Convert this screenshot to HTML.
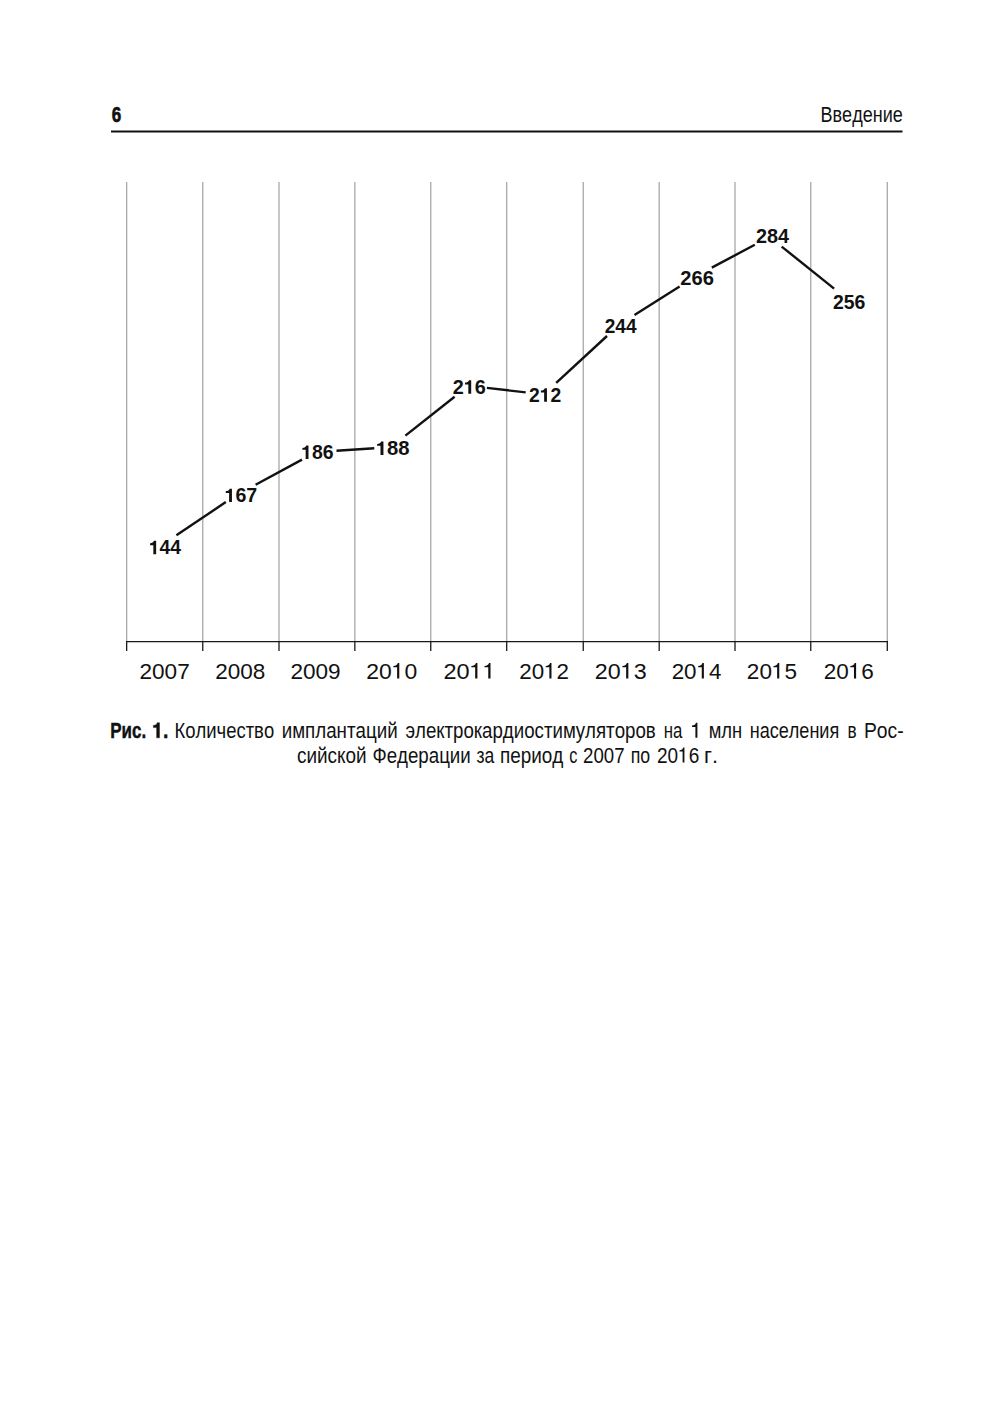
<!DOCTYPE html>
<html><head><meta charset="utf-8">
<style>
html,body{margin:0;padding:0;background:#fff;}
body{width:1000px;height:1420px;position:relative;overflow:hidden;}
svg{position:absolute;left:0;top:0;}
text{font-family:"Liberation Sans",sans-serif;fill:#111;font-kerning:none;}
path{fill:#111;}
</style></head><body>
<svg width="1000" height="1420" viewBox="0 0 1000 1420">
<rect x="111" y="130.5" width="791.5" height="2" fill="#111"/>
<text x="111.76" y="122.0" font-size="22.3" font-weight="bold" textLength="9.45" lengthAdjust="spacingAndGlyphs" stroke="#111" stroke-width="0.7">6</text>
<text x="820.51" y="122" font-size="22.7" textLength="82.28" lengthAdjust="spacingAndGlyphs" >Введение</text>
<text x="110.25" y="737.8" font-size="21.8" font-weight="bold" textLength="35.90" lengthAdjust="spacingAndGlyphs" stroke="#111" stroke-width="0.45">Рис.</text>
<text x="152.18" y="737.8" font-size="21.8" font-weight="bold" textLength="16.16" lengthAdjust="spacingAndGlyphs" stroke="#111" stroke-width="0.45"> .</text>
<path transform="translate(152.18 737.8) scale(19.373 -21.800)" d="M0.376 0L0.376 0.69L0.262 0.69C0.240 0.600 0.170 0.572 0.063 0.570L0.063 0.468L0.231 0.468L0.231 0Z" vector-effect="non-scaling-stroke" stroke="#111" stroke-width="0.45"/>
<text x="174.48" y="737.8" font-size="21.8" textLength="99.68" lengthAdjust="spacingAndGlyphs" >Количество</text>
<text x="281.69" y="737.8" font-size="21.8" textLength="116.00" lengthAdjust="spacingAndGlyphs" >имплантаций</text>
<text x="405.49" y="737.8" font-size="21.8" textLength="250.31" lengthAdjust="spacingAndGlyphs" >электрокардиостимуляторов</text>
<text x="663.83" y="737.8" font-size="21.8" textLength="18.59" lengthAdjust="spacingAndGlyphs" >на</text>
<path transform="translate(690.53 737.8) scale(21.012 -21.800)" d="M0.327 0L0.327 0.69L0.262 0.69C0.245 0.615 0.185 0.565 0.070 0.560L0.070 0.500L0.232 0.500L0.232 0Z" vector-effect="non-scaling-stroke" />
<text x="708.71" y="737.8" font-size="21.8" textLength="33.59" lengthAdjust="spacingAndGlyphs" >млн</text>
<text x="749.74" y="737.8" font-size="21.8" textLength="89.51" lengthAdjust="spacingAndGlyphs" >населения</text>
<text x="847.59" y="737.8" font-size="21.8" textLength="9.16" lengthAdjust="spacingAndGlyphs" >в</text>
<text x="864.01" y="737.8" font-size="21.8" textLength="39.68" lengthAdjust="spacingAndGlyphs" >Рос-</text>
<text x="296.99" y="762.5" font-size="21.8" textLength="69.52" lengthAdjust="spacingAndGlyphs" >сийской</text>
<text x="372.42" y="762.5" font-size="21.8" textLength="98.36" lengthAdjust="spacingAndGlyphs" >Федерации</text>
<text x="476.56" y="762.5" font-size="21.8" textLength="17.78" lengthAdjust="spacingAndGlyphs" >за</text>
<text x="499.98" y="762.5" font-size="21.8" textLength="63.35" lengthAdjust="spacingAndGlyphs" >период</text>
<text x="569.31" y="762.5" font-size="21.8" textLength="8.14" lengthAdjust="spacingAndGlyphs" >с</text>
<text x="583.07" y="762.5" font-size="21.8" textLength="41.51" lengthAdjust="spacingAndGlyphs" >2007</text>
<text x="630.76" y="762.5" font-size="21.8" textLength="19.45" lengthAdjust="spacingAndGlyphs" >по</text>
<text x="657.05" y="762.5" font-size="21.8" textLength="42.30" lengthAdjust="spacingAndGlyphs" >20 6</text>
<path transform="translate(678.20 762.5) scale(19.014 -21.800)" d="M0.327 0L0.327 0.69L0.262 0.69C0.245 0.615 0.185 0.565 0.070 0.560L0.070 0.500L0.232 0.500L0.232 0Z" vector-effect="non-scaling-stroke" />
<text x="703.98" y="762.5" font-size="21.8" textLength="13.98" lengthAdjust="spacingAndGlyphs" >г.</text>
<line x1="126.65" y1="182" x2="126.65" y2="641" stroke="#a8a8a8" stroke-width="1.3"/>
<line x1="202.75" y1="182" x2="202.75" y2="641" stroke="#a8a8a8" stroke-width="1.3"/>
<line x1="279.00" y1="182" x2="279.00" y2="641" stroke="#a8a8a8" stroke-width="1.3"/>
<line x1="354.85" y1="182" x2="354.85" y2="641" stroke="#a8a8a8" stroke-width="1.3"/>
<line x1="430.75" y1="182" x2="430.75" y2="641" stroke="#a8a8a8" stroke-width="1.3"/>
<line x1="506.70" y1="182" x2="506.70" y2="641" stroke="#a8a8a8" stroke-width="1.3"/>
<line x1="583.25" y1="182" x2="583.25" y2="641" stroke="#a8a8a8" stroke-width="1.3"/>
<line x1="659.20" y1="182" x2="659.20" y2="641" stroke="#a8a8a8" stroke-width="1.3"/>
<line x1="735.00" y1="182" x2="735.00" y2="641" stroke="#a8a8a8" stroke-width="1.3"/>
<line x1="810.75" y1="182" x2="810.75" y2="641" stroke="#a8a8a8" stroke-width="1.3"/>
<line x1="887.30" y1="182" x2="887.30" y2="641" stroke="#a8a8a8" stroke-width="1.3"/>
<line x1="126" y1="641.5" x2="888" y2="641.5" stroke="#1a1a1a" stroke-width="1.25"/>
<line x1="126.65" y1="641" x2="126.65" y2="651" stroke="#1a1a1a" stroke-width="1.3"/>
<line x1="202.75" y1="641" x2="202.75" y2="651" stroke="#1a1a1a" stroke-width="1.3"/>
<line x1="279.00" y1="641" x2="279.00" y2="651" stroke="#1a1a1a" stroke-width="1.3"/>
<line x1="354.85" y1="641" x2="354.85" y2="651" stroke="#1a1a1a" stroke-width="1.3"/>
<line x1="430.75" y1="641" x2="430.75" y2="651" stroke="#1a1a1a" stroke-width="1.3"/>
<line x1="506.70" y1="641" x2="506.70" y2="651" stroke="#1a1a1a" stroke-width="1.3"/>
<line x1="583.25" y1="641" x2="583.25" y2="651" stroke="#1a1a1a" stroke-width="1.3"/>
<line x1="659.20" y1="641" x2="659.20" y2="651" stroke="#1a1a1a" stroke-width="1.3"/>
<line x1="735.00" y1="641" x2="735.00" y2="651" stroke="#1a1a1a" stroke-width="1.3"/>
<line x1="810.75" y1="641" x2="810.75" y2="651" stroke="#1a1a1a" stroke-width="1.3"/>
<line x1="887.30" y1="641" x2="887.30" y2="651" stroke="#1a1a1a" stroke-width="1.3"/>
<text x="139.47" y="678.6" font-size="22.7" textLength="50.31" lengthAdjust="spacingAndGlyphs" >2007</text>
<text x="215.27" y="678.6" font-size="22.7" textLength="50.13" lengthAdjust="spacingAndGlyphs" >2008</text>
<text x="290.47" y="678.6" font-size="22.7" textLength="50.19" lengthAdjust="spacingAndGlyphs" >2009</text>
<text x="366.25" y="678.6" font-size="22.7" textLength="51.06" lengthAdjust="spacingAndGlyphs" >20 0</text>
<path transform="translate(391.78 678.6) scale(22.951 -22.700)" d="M0.327 0L0.327 0.69L0.262 0.69C0.245 0.615 0.185 0.565 0.070 0.560L0.070 0.500L0.232 0.500L0.232 0Z" vector-effect="non-scaling-stroke" />
<text x="443.52" y="678.6" font-size="22.7" textLength="52.37" lengthAdjust="spacingAndGlyphs" >20  </text>
<path transform="translate(469.71 678.6) scale(23.542 -22.700)" d="M0.327 0L0.327 0.69L0.262 0.69C0.245 0.615 0.185 0.565 0.070 0.560L0.070 0.500L0.232 0.500L0.232 0Z" vector-effect="non-scaling-stroke" />
<path transform="translate(482.80 678.6) scale(23.542 -22.700)" d="M0.327 0L0.327 0.69L0.262 0.69C0.245 0.615 0.185 0.565 0.070 0.560L0.070 0.500L0.232 0.500L0.232 0Z" vector-effect="non-scaling-stroke" />
<text x="519.28" y="678.6" font-size="22.7" textLength="49.79" lengthAdjust="spacingAndGlyphs" >20 2</text>
<path transform="translate(544.17 678.6) scale(22.379 -22.700)" d="M0.327 0L0.327 0.69L0.262 0.69C0.245 0.615 0.185 0.565 0.070 0.560L0.070 0.500L0.232 0.500L0.232 0Z" vector-effect="non-scaling-stroke" />
<text x="594.84" y="678.6" font-size="22.7" textLength="51.80" lengthAdjust="spacingAndGlyphs" >20 3</text>
<path transform="translate(620.74 678.6) scale(23.286 -22.700)" d="M0.327 0L0.327 0.69L0.262 0.69C0.245 0.615 0.185 0.565 0.070 0.560L0.070 0.500L0.232 0.500L0.232 0Z" vector-effect="non-scaling-stroke" />
<text x="671.68" y="678.6" font-size="22.7" textLength="49.78" lengthAdjust="spacingAndGlyphs" >20 4</text>
<path transform="translate(696.57 678.6) scale(22.378 -22.700)" d="M0.327 0L0.327 0.69L0.262 0.69C0.245 0.615 0.185 0.565 0.070 0.560L0.070 0.500L0.232 0.500L0.232 0Z" vector-effect="non-scaling-stroke" />
<text x="746.87" y="678.6" font-size="22.7" textLength="50.08" lengthAdjust="spacingAndGlyphs" >20 5</text>
<path transform="translate(771.91 678.6) scale(22.509 -22.700)" d="M0.327 0L0.327 0.69L0.262 0.69C0.245 0.615 0.185 0.565 0.070 0.560L0.070 0.500L0.232 0.500L0.232 0Z" vector-effect="non-scaling-stroke" />
<text x="823.67" y="678.6" font-size="22.7" textLength="50.13" lengthAdjust="spacingAndGlyphs" >20 6</text>
<path transform="translate(848.74 678.6) scale(22.535 -22.700)" d="M0.327 0L0.327 0.69L0.262 0.69C0.245 0.615 0.185 0.565 0.070 0.560L0.070 0.500L0.232 0.500L0.232 0Z" vector-effect="non-scaling-stroke" />
<line x1="176.4" y1="535.3" x2="225.8" y2="502.1" stroke="#111" stroke-width="2.4"/>
<line x1="255.6" y1="484.8" x2="302" y2="459.6" stroke="#111" stroke-width="2.4"/>
<line x1="336.5" y1="450.8" x2="374.3" y2="448.2" stroke="#111" stroke-width="2.4"/>
<line x1="405.4" y1="435.6" x2="454.6" y2="396.8" stroke="#111" stroke-width="2.4"/>
<line x1="486.9" y1="387.9" x2="525.7" y2="392.4" stroke="#111" stroke-width="2.4"/>
<line x1="556.2" y1="382.8" x2="607" y2="336" stroke="#111" stroke-width="2.4"/>
<line x1="634.5" y1="314.9" x2="679.6" y2="286.6" stroke="#111" stroke-width="2.4"/>
<line x1="711.8" y1="267.6" x2="754.8" y2="244.8" stroke="#111" stroke-width="2.4"/>
<line x1="781.7" y1="246.6" x2="834.1" y2="288.6" stroke="#111" stroke-width="2.4"/>
<text x="148.88" y="554.3" font-size="19.5" font-weight="bold" textLength="32.23" lengthAdjust="spacingAndGlyphs" > 44</text>
<path transform="translate(148.88 554.3) scale(19.319 -19.500)" d="M0.376 0L0.376 0.69L0.262 0.69C0.240 0.600 0.170 0.572 0.063 0.570L0.063 0.468L0.231 0.468L0.231 0Z" vector-effect="non-scaling-stroke" />
<text x="224.57" y="502.1" font-size="19.5" font-weight="bold" textLength="32.69" lengthAdjust="spacingAndGlyphs" > 67</text>
<path transform="translate(224.57 502.1) scale(19.590 -19.500)" d="M0.376 0L0.376 0.69L0.262 0.69C0.240 0.600 0.170 0.572 0.063 0.570L0.063 0.468L0.231 0.468L0.231 0Z" vector-effect="non-scaling-stroke" />
<text x="301.18" y="459" font-size="19.5" font-weight="bold" textLength="32.42" lengthAdjust="spacingAndGlyphs" > 86</text>
<path transform="translate(301.18 459) scale(19.433 -19.500)" d="M0.376 0L0.376 0.69L0.262 0.69C0.240 0.600 0.170 0.572 0.063 0.570L0.063 0.468L0.231 0.468L0.231 0Z" vector-effect="non-scaling-stroke" />
<text x="375.82" y="455" font-size="19.5" font-weight="bold" textLength="33.80" lengthAdjust="spacingAndGlyphs" > 88</text>
<path transform="translate(375.82 455) scale(20.260 -19.500)" d="M0.376 0L0.376 0.69L0.262 0.69C0.240 0.600 0.170 0.572 0.063 0.570L0.063 0.468L0.231 0.468L0.231 0Z" vector-effect="non-scaling-stroke" />
<text x="452.71" y="393.7" font-size="19.5" font-weight="bold" textLength="33.11" lengthAdjust="spacingAndGlyphs" >2 6</text>
<path transform="translate(463.74 393.7) scale(19.844 -19.500)" d="M0.376 0L0.376 0.69L0.262 0.69C0.240 0.600 0.170 0.572 0.063 0.570L0.063 0.468L0.231 0.468L0.231 0Z" vector-effect="non-scaling-stroke" />
<text x="528.92" y="401.7" font-size="19.5" font-weight="bold" textLength="32.27" lengthAdjust="spacingAndGlyphs" >2 2</text>
<path transform="translate(539.68 401.7) scale(19.341 -19.500)" d="M0.376 0L0.376 0.69L0.262 0.69C0.240 0.600 0.170 0.572 0.063 0.570L0.063 0.468L0.231 0.468L0.231 0Z" vector-effect="non-scaling-stroke" />
<text x="604.73" y="332.9" font-size="19.5" font-weight="bold" textLength="31.88" lengthAdjust="spacingAndGlyphs" >244</text>
<text x="680.29" y="285.2" font-size="19.5" font-weight="bold" textLength="33.63" lengthAdjust="spacingAndGlyphs" >266</text>
<text x="756.11" y="243.2" font-size="19.5" font-weight="bold" textLength="33.01" lengthAdjust="spacingAndGlyphs" >284</text>
<text x="832.92" y="308.7" font-size="19.5" font-weight="bold" textLength="32.38" lengthAdjust="spacingAndGlyphs" >256</text>
</svg>
</body></html>
